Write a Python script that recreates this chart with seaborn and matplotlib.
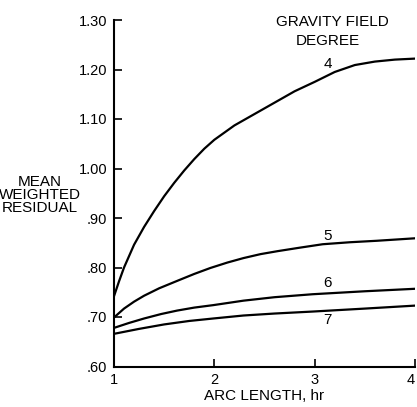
import matplotlib
matplotlib.use("Agg")
import matplotlib.pyplot as plt
import seaborn as sns
import pandas as pd

# ---- data ----
x_deg4 = [1.0, 1.05, 1.1, 1.2, 1.3, 1.4, 1.5, 1.6, 1.7, 1.8, 1.9, 2.0, 2.2, 2.4, 2.6, 2.8, 3.0, 3.2, 3.4, 3.6, 3.8, 4.0]
y_deg4 = [0.742, 0.772, 0.80, 0.846, 0.882, 0.914, 0.944, 0.971, 0.996, 1.019, 1.040, 1.058, 1.087, 1.110, 1.133,
          1.156, 1.175, 1.195, 1.209, 1.216, 1.220, 1.222]
x_deg5 = [1.0, 1.1, 1.2, 1.3, 1.45, 1.63, 1.8, 1.96, 2.13, 2.29, 2.46, 2.63, 2.85, 3.08, 3.35, 3.62, 4.0]
y_deg5 = [0.699, 0.717, 0.731, 0.743, 0.758, 0.773, 0.787, 0.799, 0.810, 0.819, 0.827, 0.833, 0.840, 0.847,
          0.851, 0.854, 0.859]
x_deg6 = [1.0, 1.15, 1.3, 1.47, 1.63, 1.8, 1.99, 2.29, 2.6, 2.98, 3.5, 4.0]
y_deg6 = [0.678, 0.688, 0.697, 0.706, 0.713, 0.719, 0.724, 0.733, 0.740, 0.746, 0.752, 0.757]
x_deg7 = [1.0, 1.25, 1.5, 1.75, 1.99, 2.29, 2.6, 2.98, 3.5, 4.0]
y_deg7 = [0.666, 0.676, 0.685, 0.692, 0.697, 0.703, 0.707, 0.711, 0.717, 0.723]
degrees = ["4", "5", "6", "7"]
label_x = [3.13, 3.13, 3.13, 3.13]
label_y = [1.212, 0.864, 0.769, 0.693]
x_ticks = [1, 2, 3, 4]
x_tick_labels = ["1", "2", "3", "4"]
y_ticks = [0.60, 0.70, 0.80, 0.90, 1.00, 1.10, 1.20, 1.30]
y_tick_labels = [".60", ".70", ".80", ".90", "1.00", "1.10", "1.20", "1.30"]

rows = []
for d, xs, ys in zip(degrees, [x_deg4, x_deg5, x_deg6, x_deg7], [y_deg4, y_deg5, y_deg6, y_deg7]):
    for xv, yv in zip(xs, ys):
        rows.append({"degree": d, "arc": xv, "resid": yv})
df = pd.DataFrame(rows)

sns.set_style("ticks")
plt.rcParams["font.family"] = ["Liberation Sans", "DejaVu Sans"]
plt.rcParams["text.color"] = "black"
plt.rcParams["axes.labelcolor"] = "black"
plt.rcParams["xtick.color"] = "black"
plt.rcParams["ytick.color"] = "black"

fig = plt.figure(figsize=(4.17, 4.07), dpi=100)
ax = fig.add_axes([114 / 417, 40.5 / 407, 301 / 417, 346.5 / 407])

sns.lineplot(data=df, x="arc", y="resid", hue="degree", units="degree", estimator=None,
             palette=["black"] * 4, linewidth=1.6, legend=False, ax=ax, sort=True)

ax.set_xlim(1, 4)
ax.set_ylim(0.60, 1.30)
ax.set_xticks(x_ticks)
ax.set_xticklabels(x_tick_labels)
ax.set_yticks(y_ticks)
ax.set_yticklabels(y_tick_labels)
ax.tick_params(axis="both", direction="in", length=6, width=1.2, labelsize=10.5, color="black",
               labelcolor="black")
ax.tick_params(axis="y", pad=5)
ax.tick_params(axis="x", pad=5)
ax.get_xticklabels()[-1].set_horizontalalignment("right")
for s in ["top", "right"]:
    ax.spines[s].set_visible(False)
for s in ["left", "bottom"]:
    ax.spines[s].set_linewidth(1.5)
    ax.spines[s].set_color("black")
ax.set_xlabel("ARC LENGTH, hr", fontsize=11, labelpad=1, color="black")
ax.set_ylabel("")

for d, lx, ly in zip(degrees, label_x, label_y):
    ax.text(lx, ly, d, fontsize=11, ha="center", va="center", color="black")

fig.text(332 / 417, 1 - 22 / 407, "GRAVITY FIELD", fontsize=11, ha="center", va="center")
fig.text(328 / 417, 1 - 41 / 407, "DEGREE", fontsize=11, ha="center", va="center")
fig.text(40 / 417, 1 - 195 / 407, "MEAN\nWEIGHTED\nRESIDUAL", fontsize=11, ha="center",
         va="center", linespacing=0.95)

fig.savefig("out.png", dpi=100)
